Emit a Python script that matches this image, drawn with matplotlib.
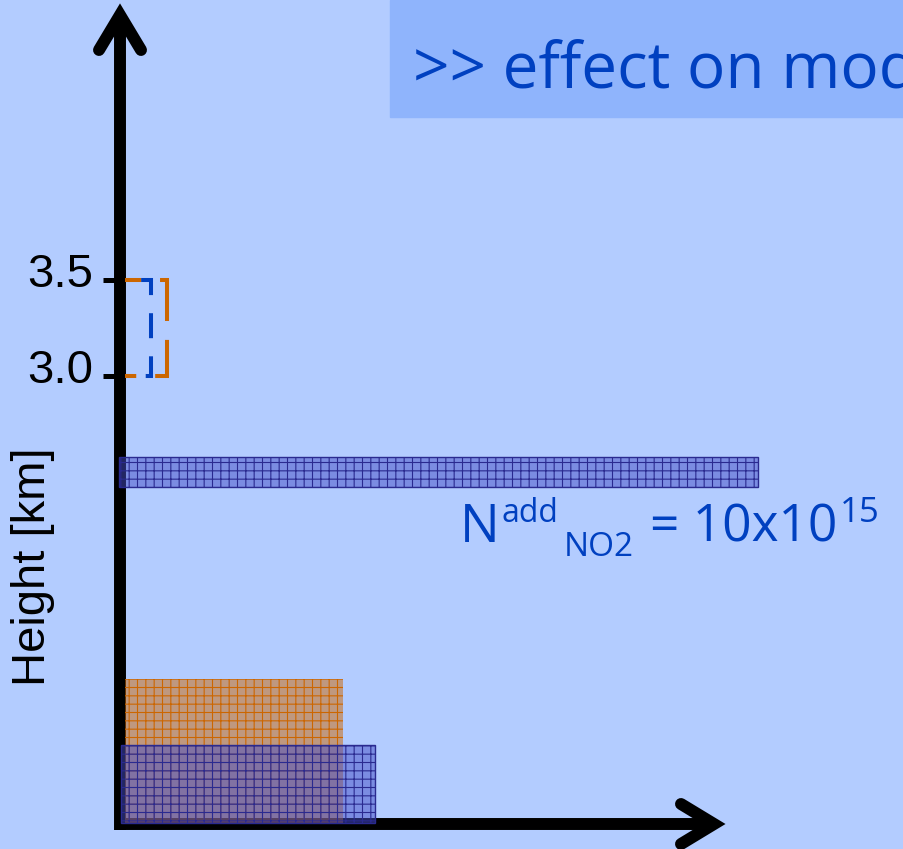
import matplotlib.pyplot as plt
from matplotlib.transforms import Affine2D
from matplotlib.patches import Rectangle

# --- data: heights in km, x in arbitrary units (schematic profile) ---
tick_vals = [3.0, 3.5]
tick_labels = ['3.0', '3.5']

# lower boxes: orange (first) and blue (second)
box_left = [0.05, 0.01]
box_right = [2.23, 2.55]
box_bottom = [0.67, 0.67]
box_top = [1.42, 1.08]

# added NO2 plume
plume_left, plume_right = -0.01, 6.38
plume_bottom, plume_top = 2.42, 2.58

# dashed brackets at 3.0 - 3.5 km: orange, blue
bracket_x = [0.47, 0.31]
bracket_lo, bracket_hi = 3.0, 3.5

# --- colours ---
bg = '#B3CCFF'
title_bg = '#8FB4FC'
txt_blue = '#0040C0'
orange = '#CC6600'
navy = '#2A2A90'

W, H = 904, 849
fig = plt.figure(figsize=(W / 100, H / 100), dpi=100, facecolor=bg)
ax = fig.add_axes([0, 0, 1, 1])
ax.set_xlim(-1.2, 7.84)
ax.set_ylim(0.5365, 4.9583)
ax.axis('off')

# pixel coords (origin top-left) for layout bits
px = Affine2D().scale(1 / W, -1 / H).translate(0, 1) + fig.transFigure

# title box (text runs off the slide edge, as in the original)
ax.add_patch(Rectangle((390, 0), 520, 117, transform=px, color=title_bg, zorder=0))
ax.text(413, 87, '>> effect on model', transform=px, fontsize=46,
        family='Open Sans', color=txt_blue, va='baseline')

# axes with arrow heads
lw_ax = 8.6
ax.plot([120, 120], [830, 20], transform=px, color='k', lw=lw_ax, solid_capstyle='butt', zorder=2)
ax.plot([99, 120, 141], [50, 15, 50], transform=px, color='k', lw=lw_ax,
        solid_capstyle='round', solid_joinstyle='miter', zorder=2)
ax.plot([115, 712], [824, 824], transform=px, color='k', lw=lw_ax, solid_capstyle='butt', zorder=2)
ax.plot([681, 714, 681], [804, 824, 844], transform=px, color='k', lw=lw_ax,
        solid_capstyle='round', solid_joinstyle='miter', zorder=2)

# ticks and labels
for t, lab in zip(tick_vals, tick_labels):
    ax.plot([-0.17, -0.01], [t, t], color='k', lw=3.6, solid_capstyle='butt', zorder=2)
    ax.text(-0.27, t - 0.036, lab, ha='right', va='baseline', fontsize=34,
            family='Liberation Sans', color='k')

ax.text(33, 567, 'Height [km]', transform=px, rotation=90, ha='center', va='center',
        fontsize=34, family='Liberation Sans', color='k')

# dashed brackets
ax.plot([0.05, bracket_x[1], bracket_x[1], 0.05],
        [bracket_hi, bracket_hi, bracket_lo, bracket_lo],
        color=txt_blue, lw=2.9, linestyle=(6.7, (6.2, 4.5)), dash_capstyle='butt',
        dash_joinstyle='miter', zorder=3)
ax.plot([0.05, bracket_x[0], bracket_x[0], 0.05],
        [bracket_hi, bracket_hi, bracket_lo, bracket_lo],
        color=orange, lw=2.9, linestyle=(7.9, (11.9, 4.7)), dash_capstyle='butt',
        dash_joinstyle='miter', zorder=3)

# boxes
plt.rcParams['hatch.linewidth'] = 0.8
widths = [r - l for l, r in zip(box_left, box_right)]
heights = [t - b for t, b in zip(box_top, box_bottom)]
ax.bar(box_left[0], heights[0], width=widths[0], bottom=box_bottom[0], align='edge',
       facecolor=(0.8, 0.4, 0.0, 0.5), edgecolor=orange, hatch='++', linewidth=0, zorder=4)
ax.bar(box_left[1], heights[1], width=widths[1], bottom=box_bottom[1], align='edge',
       facecolor=(0.27, 0.3, 0.78, 0.5), edgecolor=navy, hatch='++', linewidth=1, zorder=5)

# plume band
ax.bar(plume_left, plume_top - plume_bottom, width=plume_right - plume_left,
       bottom=plume_bottom, align='edge', facecolor=(0.27, 0.3, 0.78, 0.5),
       edgecolor=navy, hatch='++', linewidth=1, zorder=5)

# plume annotation
kw = dict(transform=px, family='Open Sans', color=txt_blue, va='baseline')
ax.text(460, 542, 'N', fontsize=38, **kw)
ax.text(502, 522, 'add', fontsize=23, **kw)
ax.text(564, 556, 'NO2', fontsize=24, **kw)
ax.text(650, 542, '= 10x10', fontsize=37, **kw)
ax.text(840, 522, '15', fontsize=25, **kw)

fig.savefig('out.png', dpi=100, facecolor=bg)
